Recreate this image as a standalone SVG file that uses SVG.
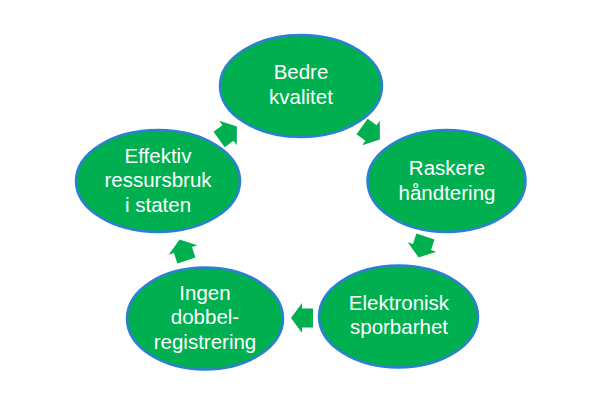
<svg xmlns="http://www.w3.org/2000/svg" width="614" height="402" viewBox="0 0 614 402">
  <style>
    .node { fill: #00B050; stroke: #2B7FD4; stroke-width: 2.5; }
    .label { fill: #FFFFFF; font-family: "Liberation Sans", Arial, sans-serif; font-size: 20.5px; text-anchor: middle; }
    .arrow { fill: #00B050; stroke: none; }
  </style>
  <defs>
    <path id="arr" d="M-11,-9.5 L0,-9.5 L0,-15 L11,0 L0,15 L0,9.5 L-11,9.5 Z"/>
  </defs>
  <rect width="614" height="402" fill="#FFFFFF"/>
  <g id="connectors">
    <use href="#arr" class="arrow" transform="translate(371,133) rotate(36)"/>
    <use href="#arr" class="arrow" transform="translate(422,247) rotate(108)"/>
    <use href="#arr" class="arrow" transform="translate(302,318) rotate(180)"/>
    <use href="#arr" class="arrow" transform="translate(183,250) rotate(-108)"/>
    <use href="#arr" class="arrow" transform="translate(228,133) rotate(-36)"/>
  </g>
  <g id="node-bedre-kvalitet">
    <ellipse class="node" cx="301" cy="86" rx="81" ry="51"/>
    <text class="label" x="301" y="79">Bedre</text>
    <text class="label" x="301" y="104">kvalitet</text>
  </g>
  <g id="node-raskere-handtering">
    <ellipse class="node" cx="446.5" cy="181" rx="79" ry="51"/>
    <text class="label" x="447" y="175">Raskere</text>
    <text class="label" x="447" y="200">håndtering</text>
  </g>
  <g id="node-elektronisk-sporbarhet">
    <ellipse class="node" cx="398.5" cy="316.5" rx="79.5" ry="51"/>
    <text class="label" x="399" y="310">Elektronisk</text>
    <text class="label" x="399" y="334">sporbarhet</text>
  </g>
  <g id="node-ingen-dobbelregistrering">
    <ellipse class="node" cx="205" cy="318.5" rx="78" ry="51"/>
    <text class="label" x="205" y="300">Ingen</text>
    <text class="label" x="205" y="324">dobbel-</text>
    <text class="label" x="205" y="349">registrering</text>
  </g>
  <g id="node-effektiv-ressursbruk">
    <ellipse class="node" cx="158" cy="181" rx="82" ry="51"/>
    <text class="label" x="158" y="163">Effektiv</text>
    <text class="label" x="158" y="187">ressursbruk</text>
    <text class="label" x="158" y="212">i staten</text>
  </g>
</svg>
